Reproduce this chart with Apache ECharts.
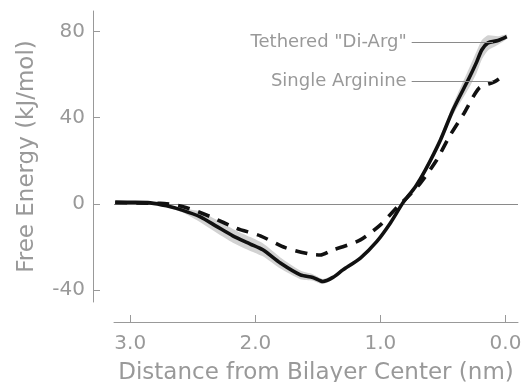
<!DOCTYPE html>
<html><head><meta charset="utf-8">
<script src="https://cdn.jsdelivr.net/npm/echarts@6/dist/echarts.min.js"></script>
<style>html,body{margin:0;padding:0;background:#fff}#c{width:530px;height:382px}</style>
</head><body><div id="c"></div>
<script>
// Tethered "Di-Arg" (solid) — distance (nm), free energy (kJ/mol), band half-width
const diArgX   = [3.12, 2.96, 2.84, 2.71, 2.58, 2.44, 2.31, 2.18, 2.04, 1.94, 1.80, 1.64, 1.54, 1.46, 1.38, 1.30, 1.16, 1.03, 0.92, 0.82, 0.72, 0.64, 0.52, 0.42, 0.29, 0.23, 0.19, 0.14, 0.06, -0.01];
const diArgY   = [0.7, 0.7, 0.5, -0.9, -3.0, -6.0, -10.4, -14.8, -18.6, -21.3, -27.4, -32.9, -34.1, -36.0, -34.1, -30.6, -25.1, -17.5, -8.8, 0.5, 8.0, 15.8, 29.7, 43.6, 58.5, 65.9, 71.4, 74.7, 75.8, 77.6];
const diArgErr = [0.3, 0.3, 0.4, 0.6, 1.0, 2.5, 3.0, 3.2, 3.2, 3.0, 2.6, 2.0, 1.5, 1.2, 1.0, 1.0, 0.8, 0.8, 0.8, 1.0, 1.2, 1.5, 2.0, 2.5, 4.5, 5.0, 4.5, 3.5, 2.0, 1.0];
// Single Arginine (dashed)
const singleX  = [3.12, 2.84, 2.76, 2.57, 2.36, 2.15, 1.96, 1.76, 1.56, 1.48, 1.38, 1.30, 1.16, 1.00, 0.85, 0.79, 0.68, 0.55, 0.45, 0.33, 0.21, 0.09, 0.01];
const singleY  = [0.7, 0.3, 0.3, -1.4, -5.9, -11.3, -14.8, -20.3, -23.3, -23.7, -21.3, -19.9, -16.7, -9.7, -0.5, 2.8, 9.7, 20.4, 31.1, 42.2, 53.8, 56.6, 59.8];
// Axis ticks
const xTicks = [0, 1, 2, 3];
const yTicks = [-40, 0, 40, 80];
// Annotation labels
const labelNames = ['Tethered "Di-Arg"', 'Single Arginine'];
const labelY = [74.8, 57.1];
const labelX0 = 0.75, labelX1 = 0.10;

const GRAY = '#999999';
const FONT = 'DejaVu Sans';
const zip = (a, b) => a.map((v, i) => [v, b[i]]);

const chart = echarts.init(document.getElementById('c'), null, {renderer: 'canvas'});
chart.setOption({
  animation: false,
  grid: {left: 114, right: 12, top: 11, bottom: 80, containLabel: false, outerBoundsMode: 'none'},
  xAxis: {
    type: 'value', inverse: true, min: -0.1, max: 3.13, offset: 20, position: 'bottom',
    splitLine: {show: false},
    axisLine: {show: true, onZero: false, lineStyle: {color: GRAY, width: 1}},
    axisTick: {show: true, inside: true, length: 7, customValues: xTicks, lineStyle: {color: GRAY}},
    axisLabel: {customValues: xTicks, margin: 12, fontSize: 20, color: GRAY, fontFamily: FONT,
      formatter: v => v.toFixed(1)},
    name: 'Distance from Bilayer Center (nm)', nameLocation: 'middle', nameGap: 40,
    nameTextStyle: {fontSize: 23, color: GRAY, fontFamily: FONT}
  },
  yAxis: {
    type: 'value', min: -45.5, max: 89.5, offset: 21, position: 'left',
    splitLine: {show: false},
    axisLine: {show: true, onZero: false, lineStyle: {color: GRAY, width: 1}},
    axisTick: {show: true, inside: true, length: 7, customValues: yTicks, lineStyle: {color: GRAY}},
    axisLabel: {customValues: yTicks, margin: 8, fontSize: 20, color: GRAY, fontFamily: FONT},
    name: 'Free Energy (kJ/mol)', nameLocation: 'middle', nameGap: 54,
    nameTextStyle: {fontSize: 23, color: GRAY, fontFamily: FONT}
  },
  series: [
    {
      type: 'custom', silent: true, z: 1,
      data: [[diArgX[0], diArgY[0]]],
      renderItem: function (params, api) {
        const pts = [];
        for (let i = 0; i < diArgX.length; i++) pts.push(api.coord([diArgX[i], diArgY[i] + diArgErr[i]]));
        for (let i = diArgX.length - 1; i >= 0; i--) pts.push(api.coord([diArgX[i], diArgY[i] - diArgErr[i]]));
        return {type: 'polygon', shape: {points: pts, smooth: 0.2}, style: {fill: '#d2d2d2'}};
      },
      markLine: {
        silent: true, symbol: 'none', z: 0,
        lineStyle: {color: '#8a8a8a', width: 1, type: 'solid'},
        label: {show: false},
        data: [{yAxis: 0}]
      }
    },
    {
      type: 'line', name: 'Single Arginine', z: 3,
      data: zip(singleX, singleY), symbol: 'none', smooth: 0.25,
      lineStyle: {color: '#111111', width: 3.6, type: [12, 9], cap: 'butt'}
    },
    {
      type: 'line', name: 'Tethered', z: 4,
      data: zip(diArgX, diArgY), symbol: 'none', smooth: 0.25,
      lineStyle: {color: '#111111', width: 3.6, cap: 'butt', join: 'round'},
      markLine: {
        silent: true, symbol: 'none',
        lineStyle: {color: '#8a8a8a', width: 1, type: 'solid'},
        label: {show: true, position: 'start', distance: 5, fontSize: 18, color: GRAY, fontFamily: FONT,
          formatter: p => p.name},
        data: labelNames.map((n, i) => [{name: n, coord: [labelX0, labelY[i]]}, {coord: [labelX1, labelY[i]]}])
      }
    }
  ]
});
</script></body></html>
